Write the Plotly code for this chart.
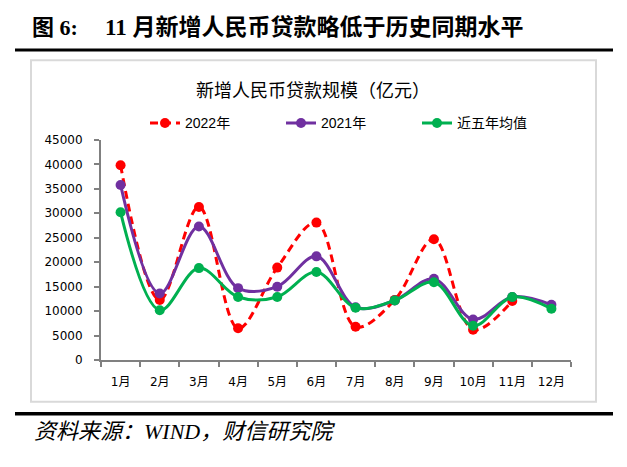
import plotly.graph_objects as go

W, H = 627, 467

months = ["1月", "2月", "3月", "4月", "5月", "6月", "7月", "8月", "9月", "10月", "11月", "12月"]
loans_2022 = [39800, 12300, 31300, 6500, 18900, 28100, 6800, 12300, 24700, 6200, 12100, None]
loans_2021 = [35800, 13600, 27300, 14700, 15000, 21200, 10800, 12200, 16600, 8300, 12900, 11300]
avg_5y = [30200, 10200, 18800, 12900, 12900, 18000, 10700, 12200, 15900, 7000, 12900, 10500]
y_ticks = [0, 5000, 10000, 15000, 20000, 25000, 30000, 35000, 40000, 45000]

fig_title = "新增人民币贷款规模（亿元）"
head_label = "图 6:"
head_text = "11 月新增人民币贷款略低于历史同期水平"
source_text = "资料来源：WIND，财信研究院"

def px_x(p):
    return p / W

def px_y(p):
    return 1 - p / H

CJK = "Noto Sans CJK SC"
AX_FONT = dict(family="DejaVu Sans, " + CJK, size=12, color="#000000")

fig = go.Figure()
fig.add_trace(go.Scatter(
    x=months, y=loans_2022, name="2022年", mode="lines+markers",
    line=dict(color="#FF0000", width=3, dash="8px,5px", shape="spline", smoothing=1),
    marker=dict(color="#FF0000", size=10), connectgaps=False))
fig.add_trace(go.Scatter(
    x=months, y=loans_2021, name="2021年", mode="lines+markers",
    line=dict(color="#7030A0", width=3, shape="spline", smoothing=1),
    marker=dict(color="#7030A0", size=10)))
fig.add_trace(go.Scatter(
    x=months, y=avg_5y, name="近五年均值", mode="lines+markers",
    line=dict(color="#00B050", width=3, shape="spline", smoothing=1),
    marker=dict(color="#00B050", size=10)))

shapes = [
    # outer gray frame
    dict(type="rect", xref="paper", yref="paper",
         x0=px_x(31), x1=px_x(596), y0=px_y(407), y1=px_y(55),
         line=dict(color="#D9D9D9", width=2), fillcolor="rgba(0,0,0,0)", layer="below"),
    # header rule
    dict(type="line", xref="paper", yref="paper",
         x0=px_x(15), x1=px_x(613), y0=px_y(44.3), y1=px_y(44.3),
         line=dict(color="#000000", width=3)),
    # footer rule
    dict(type="line", xref="paper", yref="paper",
         x0=px_x(15), x1=px_x(613), y0=px_y(419.3), y1=px_y(419.3),
         line=dict(color="#000000", width=3.5)),
]

annotations = [
    dict(text="<b>" + head_label + "</b>", xref="paper", yref="paper",
         x=px_x(30), y=px_y(21), xanchor="left", yanchor="middle", showarrow=False,
         font=dict(family="Liberation Serif, " + CJK, size=22, color="#000000")),
    dict(text="<b>" + head_text + "</b>", xref="paper", yref="paper",
         x=px_x(103), y=px_y(21), xanchor="left", yanchor="middle", showarrow=False,
         font=dict(family="Liberation Serif, " + CJK, size=23, color="#000000")),
    dict(text=fig_title, xref="paper", yref="paper",
         x=px_x(313), y=px_y(85), xanchor="center", yanchor="middle", showarrow=False,
         font=dict(family=CJK, size=18, color="#000000")),
    dict(text="<i>" + source_text + "</i>", xref="paper", yref="paper",
         x=px_x(32), y=px_y(438), xanchor="left", yanchor="middle", showarrow=False,
         font=dict(family="Liberation Serif, " + CJK, size=22, color="#000000")),
]

fig.update_layout(
    width=W, height=H,
    margin=dict(l=0, r=0, t=0, b=0),
    paper_bgcolor="white", plot_bgcolor="white",
    shapes=shapes, annotations=annotations,
    showlegend=True,
    legend=dict(orientation="h", x=px_x(145), y=px_y(120), xanchor="left", yanchor="middle",
                font=dict(family="Liberation Sans, " + CJK, size=14, color="#000000"),
                entrywidth=91, entrywidthmode="pixels", bgcolor="rgba(0,0,0,0)"),
    xaxis=dict(domain=[px_x(101), px_x(571)], type="category", range=[-0.5, 11.5],
               showline=True, linecolor="#808080", linewidth=2,
               ticks="outside", ticklen=5, tickwidth=2, tickcolor="#808080",
               tickson="boundaries", showgrid=False, zeroline=False,
               ticklabelstandoff=10,
               tickfont=AX_FONT, fixedrange=True),
    yaxis=dict(domain=[px_y(364), px_y(137)], range=[0, 45000],
               tickvals=y_ticks, ticktext=[str(v) for v in y_ticks],
               showline=True, linecolor="#808080", linewidth=2,
               ticks="outside", ticklen=5, tickwidth=2, tickcolor="#808080",
               showgrid=False, zeroline=False, ticklabelstandoff=9,
               tickfont=AX_FONT, fixedrange=True),
)

fig.write_html("out.html", config={"displayModeBar": False},
               post_script="document.body.style.margin='0';document.body.style.padding='0';")
